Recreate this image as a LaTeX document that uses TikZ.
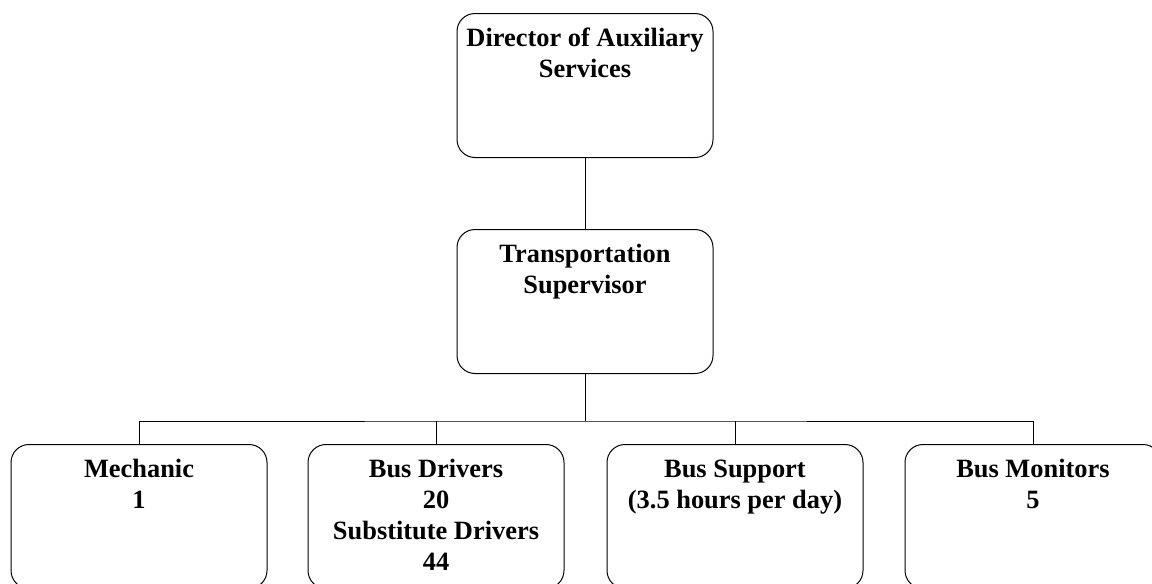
\documentclass[tikz,border=0pt]{standalone}
\usepackage{fontspec}
\setmainfont{Liberation Serif}
\begin{document}
\begin{tikzpicture}[x=1pt,y=-1pt,
  orgbox/.style={draw=black, line width=1pt, rounded corners=18pt, inner sep=0pt,
    minimum width=256pt, minimum height=144pt, anchor=north},
  link/.style={draw=black, line width=1pt}]
\newcommand{\boxtext}[1]{\parbox[c][144pt][t]{256pt}{\centering\fontsize{26.4}{31}\selectfont\bfseries\rule{0pt}{32.5pt}#1}}
\useasboundingbox (0,0) rectangle (1152,584);
\clip (0,0) rectangle (1152,584);
\node[orgbox] (dir) at (585,13) {\boxtext{Director of Auxiliary\\Services}};
\node[orgbox] (sup) at (585,229) {\boxtext{Transportation\\Supervisor}};
\node[orgbox] (mech) at (139,444) {\boxtext{Mechanic\\1}};
\node[orgbox] (drv) at (436,444) {\boxtext{Bus Drivers\\20\\Substitute Drivers\\44}};
\node[orgbox] (supp) at (735,444) {\boxtext{Bus Support\\(3.5 hours per day)}};
\node[orgbox] (mon) at (1033,444) {\boxtext{Bus Monitors\\5}};
\coordinate (bus) at (585,421);
\draw[link] (dir.south) -- (sup.north);
\draw[link] (sup.south) -- (bus);
\draw[link] (mech.north) |- (bus) -| (mon.north);
\draw[link] (drv.north) -- (drv.north |- bus);
\draw[link] (supp.north) -- (supp.north |- bus);
\end{tikzpicture}
\end{document}
